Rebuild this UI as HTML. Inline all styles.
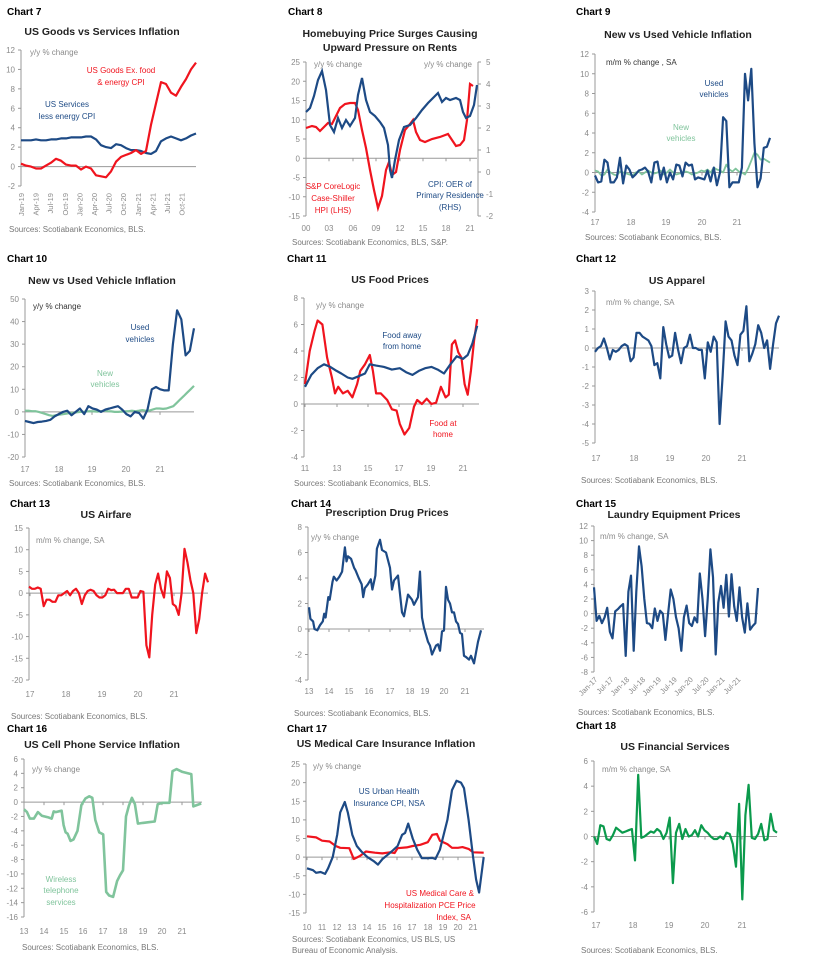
<!DOCTYPE html>
<html><head><meta charset="utf-8"><style>
body{margin:0;background:#fff}
svg text{font-family:"Liberation Sans",sans-serif}
</style></head><body>
<svg id="s" width="822" height="959" xmlns="http://www.w3.org/2000/svg"></svg>
<script>
const S=document.getElementById('s');let h='';
const BLUE='#1d4a85',RED='#f0141e',LG='#80c49c',DG='#0b9a4c',GR='#8a8a8a';
function t(x,y,s,o={}){h+=`<text x="${x}" y="${y}" font-size="${o.fs||8}" fill="${o.c||GR}" text-anchor="${o.a||'start'}" ${o.b?'font-weight="bold"':''} ${o.tr?`transform="${o.tr}"`:''}>${s}</text>`;}
function chart(o){
 const Y=v=>o.py0+(v-o.v0)*(o.py1-o.py0)/(o.v1-o.v0);
 h+=`<text x="${o.cx}" y="${o.cy}" font-size="10" font-weight="bold" fill="#000">${o.cl}</text>`;
 o.title.forEach((l,i)=>t(o.tx,o.ty+i*14,l,{fs:10.5,c:'#222',a:'middle',b:1}));
 const top=Y(o.ticks[0]),bot=Y(o.ticks[o.ticks.length-1]);
 h+=`<line x1="${o.ax}" y1="${top}" x2="${o.ax}" y2="${bot}" stroke="#999" stroke-width="1"/>`;
 o.ticks.forEach(v=>{const y=Y(v);h+=`<line x1="${o.ax-3}" y1="${y}" x2="${o.ax}" y2="${y}" stroke="#999"/>`;t(o.ax-6,y+3,v<0?'-'+(-v):v,{a:'end'});});
 if(o.rax){const Y2=v=>o.rpy0+(v-o.rv0)*(o.rpy1-o.rpy0)/(o.rv1-o.rv0);
  h+=`<line x1="${o.rax}" y1="${Y2(o.rticks[0])}" x2="${o.rax}" y2="${Y2(o.rticks[o.rticks.length-1])}" stroke="#999"/>`;
  o.rticks.forEach(v=>{const y=Y2(v);h+=`<line x1="${o.rax}" y1="${y}" x2="${o.rax+3}" y2="${y}" stroke="#999"/>`;t(o.rax+8,y+3,v<0?'-'+(-v):v);});}
 const z=Y(0);h+=`<line x1="${o.ax}" y1="${z}" x2="${o.xe}" y2="${z}" stroke="#999"/>`;
 (o.xl||[]).forEach(([s,x])=>{h+=`<line x1="${x}" y1="${z}" x2="${x}" y2="${z+3}" stroke="#999"/>`;t(x,o.xly,s,{a:'middle'});});
 o.series.forEach(se=>{let p;
  if(se.vals){const n=se.vals.length;p=se.vals.map((v,i)=>[o.ax+(o.xe-o.ax)*i/(n-1),v]);}
  else p=se.yr.map(([yr,v])=>[se.fx?se.fx(yr):o.yx0+(yr-o.y0)*o.ppy,v]);
  h+=`<polyline fill="none" stroke="${se.c}" stroke-width="${se.w||2.2}" stroke-linejoin="round" points="${p.map(([x,v])=>x.toFixed(1)+','+Y(v).toFixed(1)).join(' ')}"/>`;});
 (o.labels||[]).forEach(l=>t(l[0],l[1],l[2],{c:l[3]||GR,a:l[4]||'middle',fs:l[5]||8}));
 o.src.forEach((l,i)=>t(o.sx,o.sy+i*11,l,{fs:8,c:'#777'}));
}
// Chart 7
chart({cl:'Chart 7',cx:7,cy:15,title:['US Goods vs Services Inflation'],tx:102,ty:35,ax:21,xe:196,v0:12,py0:50,v1:-2,py1:186,ticks:[12,10,8,6,4,2,0,-2],
 series:[{c:BLUE,vals:[2.7,2.7,2.7,2.8,2.7,2.7,2.8,2.8,2.9,2.9,3.0,3.0,3.0,3.1,3.1,2.8,2.2,2.0,1.9,2.3,2.2,1.9,1.7,1.7,1.6,1.4,1.3,1.6,2.6,2.9,3.1,2.9,2.7,2.9,3.2,3.4,3.7].slice(0,36)},
 {c:RED,vals:[0.3,0.1,0,-0.2,-0.2,0.1,0.4,0.8,0.6,0.2,0.1,0.1,-0.3,0,-0.2,-0.9,-1.0,-1.1,-0.5,0.5,1.0,1.2,1.4,1.7,1.3,1.6,4.3,6.5,8.7,8.5,7.6,7.3,8.2,9.0,10.0,10.7]}],
 labels:[[30,55,'y/y % change',GR,'start'],[121,73,'US Goods Ex. food',RED],[121,85,'&amp; energy CPI',RED],[67,107,'US Services',BLUE],[67,119,'less energy CPI',BLUE]],
 src:['Sources: Scotiabank Economics, BLS.'],sx:9,sy:232});
['Jan-19','Apr-19','Jul-19','Oct-19','Jan-20','Apr-20','Jul-20','Oct-20','Jan-21','Apr-21','Jul-21','Oct-21'].forEach((s,i)=>{const x=21+i*14.6;t(x+3,193,s,{a:'end',tr:`rotate(-90 ${x+3} 193)`,fs:7.5});});
// Chart 8
chart({cl:'Chart 8',cx:288,cy:15,title:['Homebuying Price Surges Causing','Upward Pressure on Rents'],tx:390,ty:37,ax:306,xe:477,v0:25,py0:62,v1:-15,py1:216,ticks:[25,20,15,10,5,0,-5,-10,-15],
 rax:478,rv0:5,rpy0:62,rv1:-2,rpy1:216,rticks:[5,4,3,2,1,0,-1,-2],
 xl:[['00',306],['03',329],['06',353],['09',376],['12',400],['15',423],['18',446],['21',470]],xly:231,
 series:[],labels:[[314,67,'y/y % change',GR,'start'],[472,67,'y/y % change',GR,'end'],[333,189,'S&amp;P CoreLogic',RED],[333,201,'Case-Shiller',RED],[333,213,'HPI (LHS)',RED],[450,187,'CPI: OER of',BLUE],[450,198,'Primary Residence',BLUE],[450,210,'(RHS)',BLUE]],
 src:['Sources: Scotiabank Economics, BLS, S&amp;P.'],sx:292,sy:245});
h+=`<polyline fill="none" stroke="${RED}" stroke-width="2.2" points="306,128 312,126 316,127 320,131 323,128 328,123 332,124 336,116 340,108 345,104 350,103 355,103 358,110 362,130 366,148 370,170 374,190 378,208 382,196 386,170 389,162 392,175 396,172 400,150 405,130 410,124 413,120 416,132 420,140 425,142 432,139 440,137 448,134 452,140 456,146 460,145 464,140 467,120 470,84 473,86"/>`;
h+=`<polyline fill="none" stroke="${BLUE}" stroke-width="2.2" points="306,112 310,108 314,96 318,80 322,71 326,90 330,125 334,132 338,118 342,128 346,120 350,126 355,118 358,95 362,78 366,100 370,112 375,116 380,122 384,128 388,145 390,170 392,178 395,160 399,140 404,127 410,125 416,118 422,110 428,103 434,97 438,93 442,102 446,98 450,100 456,98 460,100 463,112 466,118 470,116 474,105 477,85"/>`;
// Chart 9
chart({cl:'Chart 9',cx:576,cy:15,title:['New vs Used Vehicle Inflation'],tx:678,ty:38,ax:595,xe:770,v0:12,py0:54,v1:-4,py1:212,ticks:[12,10,8,6,4,2,0,-2,-4],
 xl:[['17',595],['18',631],['19',666],['20',702],['21',737]],xly:225,
 series:[{c:LG,w:1.8,vals:[0.2,0.1,-0.3,-0.2,0.3,0,-0.2,-0.3,0.1,0,-0.1,-0.2,-0.3,0,0.1,-0.2,0,0.2,0,-0.1,0,0.2,-0.2,0,0.3,0,-0.2,-0.1,0,0.1,0,-0.2,-0.1,0,0.2,0.1,0.3,0,0.5,0.3,0.2,0,0.8,0.3,0.1,0.4,0.1,0,-0.2,0.4,1.2,2,1.8,1.3,1.4,1.2,1.0]},
 {c:BLUE,vals:[-0.3,-1,-0.9,1.3,1,-1,-1,-0.5,1.5,-1.1,0.7,0.3,-0.5,-0.2,0.2,0.3,0.5,0.1,-1,1,1.1,-0.7,0.5,-1,0,-0.7,0.8,0.7,-0.4,1,0.7,0.8,-0.7,-0.5,-0.6,-0.7,0.2,-0.9,0.5,-1.3,0,5.6,5.2,-1.5,-1,-1,-1,0.5,10,7.3,10.5,3,-1.5,-0.6,2.5,2.6,3.5]}],
 labels:[[606,65,'m/m % change , SA','#333','start'],[714,86,'Used',BLUE],[714,97,'vehicles',BLUE],[681,130,'New',LG],[681,141,'vehicles',LG]],
 src:['Sources: Scotiabank Economics, BLS.'],sx:585,sy:240});
// Chart 10
chart({cl:'Chart 10',cx:7,cy:262,title:['New vs Used Vehicle Inflation'],tx:102,ty:284,ax:25,xe:194,v0:50,py0:299,v1:-20,py1:457,ticks:[50,40,30,20,10,0,-10,-20],
 xl:[['17',25],['18',59],['19',92],['20',126],['21',160]],xly:472,
 series:[{c:LG,vals:[0.5,0.5,0.3,0.3,0,-0.5,-1,-1.5,-1.8,-1.5,-1.2,-1,-0.8,-0.5,-0.5,-0.2,0,0,0.2,0.3,0.2,0.1,0.3,0.5,0.3,0.2,0,0,0.1,0.2,0.3,0.5,0.3,0.5,0.8,0.5,0.5,1,1.5,1.5,1.3,1.5,2,2.5,4,5.5,7,8.5,10,11.5]},
 {c:BLUE,vals:[-4,-4.5,-5,-4.5,-4.3,-4,-3.5,-2,-1,0,0.5,-1.5,0,1.5,-1,2.5,1.5,1,0,1,1.5,2,2.5,1,-1,-2,0,-0.5,-3,1,10,11,10,9.5,9.5,30,45,41,25,27,37]}],
 labels:[[33,309,'y/y % change','#333','start'],[140,330,'Used',BLUE],[140,342,'vehicles',BLUE],[105,376,'New',LG],[105,387,'vehicles',LG]],
 src:['Sources: Scotiabank Economics, BLS.'],sx:9,sy:486});
// Chart 11
chart({cl:'Chart 11',cx:287,cy:262,title:['US Food Prices'],tx:390,ty:283,ax:304,xe:479,v0:8,py0:298,v1:-4,py1:457,ticks:[8,6,4,2,0,-2,-4],
 xl:[['11',305],['13',337],['15',368],['17',399],['19',431],['21',463]],xly:471,yx0:305,y0:11,ppy:15.8,
 series:[{c:RED,yr:[[11,1.5],[11.3,4],[11.6,5.5],[11.8,6.3],[12.1,6],[12.4,3.5],[12.7,2],[12.9,0.8],[13.1,1.3],[13.4,0.8],[13.7,1],[14,0.5],[14.3,1.5],[14.5,2.5],[14.8,3],[15.1,3.7],[15.3,2.5],[15.5,0.8],[15.8,0.8],[16.2,0.3],[16.5,-0.4],[16.8,-0.5],[17,-1.5],[17.3,-2.3],[17.6,-1.8],[17.9,-0.2],[18.1,0.3],[18.4,0],[18.7,0.4],[19,0],[19.3,0.1],[19.6,1.3],[19.9,0.5],[20.1,0.7],[20.3,4.5],[20.5,4.8],[20.7,3.9],[20.9,3.5],[21.1,1.5],[21.3,0.7],[21.5,2.5],[21.7,4.8],[21.9,6.4]]},
 {c:BLUE,yr:[[11,1.3],[11.4,2.2],[11.8,2.7],[12.2,3.0],[12.6,2.8],[13,2.5],[13.3,2.3],[13.7,2.0],[14,1.9],[14.4,2.1],[14.8,2.3],[15.1,3.0],[15.5,2.9],[16,2.8],[16.5,2.6],[17,2.7],[17.4,2.4],[17.8,2.2],[18.2,2.5],[18.6,2.7],[19,2.8],[19.4,2.6],[19.8,2.3],[20.2,3.0],[20.6,3.6],[21,3.4],[21.3,3.7],[21.6,4.6],[21.9,5.9]]}],
 labels:[[316,308,'y/y % change',GR,'start'],[402,338,'Food away',BLUE],[402,349,'from home',BLUE],[443,426,'Food at',RED],[443,437,'home',RED]],
 src:['Sources: Scotiabank Economics, BLS.'],sx:294,sy:486});
// Chart 12
chart({cl:'Chart 12',cx:576,cy:262,title:['US Apparel'],tx:677,ty:284,ax:595,xe:779,v0:3,py0:291,v1:-5,py1:443,ticks:[3,2,1,0,-1,-2,-3,-4,-5],
 xl:[['17',596],['18',634],['19',670],['20',706],['21',742]],xly:461,
 series:[{c:BLUE,vals:[-0.2,0,0.1,0.5,0,-0.6,-0.1,-0.2,-0.1,0.1,0.2,0.1,-0.7,-0.5,0.8,0.8,0.6,0.5,0.4,0.1,-0.9,-0.8,-1.6,1.1,0.2,-0.5,-0.4,0.8,-0.1,-0.8,0,0.1,0.7,0,0,-0.1,-0.1,-1.6,0.3,-0.2,0.6,0.3,-4.0,-1.5,1.4,0.6,0.4,-0.4,-0.9,0.7,0.9,2.2,-0.7,-0.3,0.2,1.2,0.8,0,0.4,-1.1,0.2,1.3,1.7]}],
 labels:[[606,305,'m/m % change, SA',GR,'start']],
 src:['Sources: Scotiabank Economics, BLS.'],sx:581,sy:483});
// Chart 13
chart({cl:'Chart 13',cx:10,cy:507,title:['US Airfare'],tx:106,ty:518,ax:29,xe:208,v0:15,py0:528,v1:-20,py1:680,ticks:[15,10,5,0,-5,-10,-15,-20],
 xl:[['17',30],['18',66],['19',102],['20',138],['21',174]],xly:697,
 series:[{c:RED,vals:[1.5,1,1,1.3,1,-3,-1.5,-1.5,-2,-2,-0.5,-0.5,0,0.5,-0.5,0.5,1,0,-2.5,-0.5,0.5,0.8,0.5,-0.5,-1,-1,-0.5,1,0.7,0.8,0,0,0,1,1,-1,-1,-1,0.5,0.3,-12,-14.8,-5,2,4.5,1,-1,5,3.5,-2.5,-3,-5,0,10.2,7,3,0,-9.2,-6,0,4.5,2.5]}],
 labels:[[36,543,'m/m % change, SA',GR,'start']],
 src:['Sources: Scotiabank Economics, BLS.'],sx:11,sy:719});
// Chart 14
const fx14=y=>y<=15.6?309+(y-13)*13.8:(y<=17.9?345+(y-15.6)*15.2:380+(y-17.9)*20);
chart({cl:'Chart 14',cx:291,cy:507,title:['Prescription Drug Prices'],tx:387,ty:516,ax:308,xe:484,v0:8,py0:527,v1:-4,py1:680,ticks:[8,6,4,2,0,-2,-4],
 xl:[['13',309],['14',329],['15',349],['16',369],['17',390],['18',410],['19',425],['20',444],['21',465]],xly:694,
 series:[{c:BLUE,fx:fx14,yr:[[13,1.7],[13.1,0.8],[13.3,0.6],[13.4,0],[13.6,-0.1],[13.8,0.3],[14,0.6],[14.1,1.2],[14.2,0.9],[14.4,2.5],[14.5,2.3],[14.7,3.7],[14.8,4.1],[15,3.8],[15.2,4.1],[15.4,4.5],[15.6,6.4],[15.7,5.3],[15.8,5.7],[16,5.5],[16.2,4.8],[16.3,4.6],[16.5,4],[16.7,3.5],[16.8,2.5],[16.9,3.2],[17.1,3.5],[17.3,3.9],[17.4,3.1],[17.6,4.2],[17.7,6.3],[17.9,7],[18,6.2],[18.2,6],[18.4,4.8],[18.5,3.1],[18.6,3.8],[18.8,4.2],[19,1.3],[19.1,1],[19.3,2.7],[19.5,2.3],[19.6,1.9],[19.8,2.5],[19.9,4.5],[20,0.9],[20.1,0.1],[20.3,-1],[20.4,-1.3],[20.5,-2],[20.7,-1.3],[20.8,-1.2],[20.9,-1.7],[21,-0.2],[21.1,-0.1],[21.2,3.3],[21.3,2.3],[21.4,2],[21.5,1.3],[21.6,1.3],[21.7,0.6],[21.8,0.4],[21.9,-0.3],[22,-0.4],[22.1,-2.1],[22.2,-2.2],[22.35,-2.4],[22.45,-2.1],[22.6,-2.7],[22.8,-1],[22.95,-0.1]]}],
 labels:[[311,540,'y/y % change',GR,'start']],
 src:['Sources: Scotiabank Economics, BLS.'],sx:294,sy:716});
// Chart 15
chart({cl:'Chart 15',cx:576,cy:507,title:['Laundry Equipment Prices'],tx:674,ty:518,ax:594,xe:758,v0:12,py0:526,v1:-8,py1:672,ticks:[12,10,8,6,4,2,0,-2,-4,-6,-8],
 series:[{c:BLUE,vals:[3.6,-1,-0.3,-1.3,-0.5,0.8,-2.5,-3.4,0.3,0.6,1,1.3,-5.8,3,5.2,-5.1,3,9.2,6.5,2,-1.3,-1.4,-2,0.7,-1,0.4,0,-3.6,0,3.3,2,-0.5,-2,-5.1,-0.5,1.1,-1.3,-1.7,-0.5,-1.2,5.5,2,-3.1,2,8.8,5,-5.6,1.5,3.8,0.8,5.3,-0.4,5.4,1,-1,3.6,-0.5,-2.6,1.4,-2.2,-1.7,-1.3,3.5]}],
 labels:[[600,539,'m/m % change, SA',GR,'start']],
 src:['Sources: Scotiabank Economics, BLS.'],sx:578,sy:715});
['Jan-17','Jul-17','Jan-18','Jul-18','Jan-19','Jul-19','Jan-20','Jul-20','Jan-21','Jul-21'].forEach((s,i)=>{const x=598+i*15.9;t(x,680,s,{a:'end',fs:7.5,tr:`rotate(-45 ${x} 680)`});});
// Chart 16
chart({cl:'Chart 16',cx:7,cy:732,title:['US Cell Phone Service Inflation'],tx:102,ty:748,ax:24,xe:202,v0:6,py0:759,v1:-16,py1:917,ticks:[6,4,2,0,-2,-4,-6,-8,-10,-12,-14,-16],
 xl:[['13',24],['14',44],['15',64],['16',83],['17',103],['18',123],['19',143],['20',162],['21',182]],xly:934,yx0:24,y0:13,ppy:19.8,
 series:[{c:LG,w:2.6,yr:[[13,-1],[13.15,-1.4],[13.3,-2.3],[13.5,-2.3],[13.7,-1.4],[13.9,-1.9],[14.2,-2.1],[14.4,-2.3],[14.5,-1.3],[14.6,-1.4],[14.9,-1.2],[15,-3.2],[15.1,-4.2],[15.2,-4.4],[15.35,-5.4],[15.5,-5.2],[15.7,-4],[15.9,-0.4],[16.1,0.5],[16.3,0.8],[16.45,0.6],[16.6,-2.5],[16.8,-4.2],[17,-4.5],[17.15,-12.5],[17.3,-13],[17.5,-13.2],[17.7,-11],[17.85,-10.2],[18.0,-9.5],[18.15,-2],[18.3,-0.5],[18.45,0.6],[18.6,-0.3],[18.75,-3],[19,-2.9],[19.3,-2.8],[19.6,-2.7],[19.75,-0.3],[20,-0.1],[20.35,-0.1],[20.5,4.3],[20.7,4.6],[21,4.2],[21.3,4],[21.45,3.9],[21.55,-0.6],[21.95,-0.2]]}],
 labels:[[32,772,'y/y % change',GR,'start'],[61,882,'Wireless',LG],[61,893,'telephone',LG],[61,905,'services',LG]],
 src:['Sources: Scotiabank Economics, BLS.'],sx:22,sy:950});
// Chart 17
chart({cl:'Chart 17',cx:287,cy:732,title:['US Medical Care Insurance Inflation'],tx:386,ty:747,ax:306,xe:484,v0:25,py0:764,v1:-15,py1:913,ticks:[25,20,15,10,5,0,-5,-10,-15],
 xl:[['10',307],['11',322],['12',337],['13',352],['14',367],['15',382],['16',397],['17',412],['18',428],['19',443],['20',458],['21',473]],xly:930,yx0:307,y0:10,ppy:15.1,
 series:[{c:RED,yr:[[10,5.6],[10.6,5.3],[11,4.4],[11.5,4.2],[11.9,3],[12.2,2.5],[12.8,2.4],[13.1,-0.5],[13.5,0.3],[13.9,1.5],[14.5,1.2],[15,1],[15.5,1.3],[15.8,1.1],[16,2.4],[16.6,2.6],[17,3],[17.5,3.3],[18,4],[18.3,6],[18.6,6.2],[18.8,4.4],[19.3,3.5],[19.6,2.5],[20,2.5],[20.3,2.7],[20.7,2.2],[21,1.3],[21.7,1.2]]},
 {c:BLUE,yr:[[10,-3],[10.4,-3.5],[10.6,-4.2],[10.9,-4],[11.2,-4.5],[11.4,-3],[11.7,0],[12,6],[12.2,12],[12.5,14.8],[12.7,12],[13,6],[13.3,3],[13.6,1.5],[14,0],[14.4,-1],[14.7,-2],[15,-0.5],[15.3,0.5],[15.6,1.5],[16,3],[16.3,6],[16.5,6.5],[16.7,9],[17,5],[17.3,2],[17.6,-0.3],[18,-0.3],[18.3,-0.2],[18.5,-0.5],[18.8,2],[19.3,10],[19.6,18],[19.9,20.5],[20.2,20],[20.4,18.5],[20.7,10],[21.0,0],[21.2,-6],[21.4,-9.5],[21.7,0]]}],
 labels:[[313,769,'y/y % change',GR,'start'],[389,794,'US Urban Health',BLUE],[389,806,'Insurance CPI, NSA',BLUE],[440,896,'US Medical Care &amp;',RED],[430,908,'Hospitalization PCE Price',RED],[471,920,'Index, SA',RED,'end']],
 src:['Sources: Scotiabank Economics, US BLS, US','Bureau of Economic Analysis.'],sx:292,sy:942});
// Chart 18
chart({cl:'Chart 18',cx:576,cy:729,title:['US Financial Services'],tx:675,ty:750,ax:594,xe:777,v0:6,py0:761,v1:-6,py1:912,ticks:[6,4,2,0,-2,-4,-6],
 xl:[['17',596],['18',633],['19',669],['20',705],['21',742]],xly:928,
 series:[{c:DG,vals:[0,-0.6,0.9,0.8,-0.2,-0.3,0.1,0.7,0.5,0.3,0.4,0.5,0.6,-1.9,4.9,-0.1,0,0.2,0.4,0.3,0.6,0.4,-0.2,0.3,1.5,-3.7,0.3,1,-0.2,0.6,0,0.1,0.5,0,0.9,0.5,0.3,0,-0.2,-0.2,0,-0.2,0.3,0.2,-0.6,-2.4,2.6,-5,1.7,4.1,-0.1,-0.2,0.2,1,-0.3,-0.2,1.8,0.5,0.3]}],
 labels:[[602,772,'m/m % change, SA',GR,'start']],
 src:['Sources: Scotiabank Economics, BLS.'],sx:581,sy:953});
S.innerHTML=h;
</script>
</body></html>
